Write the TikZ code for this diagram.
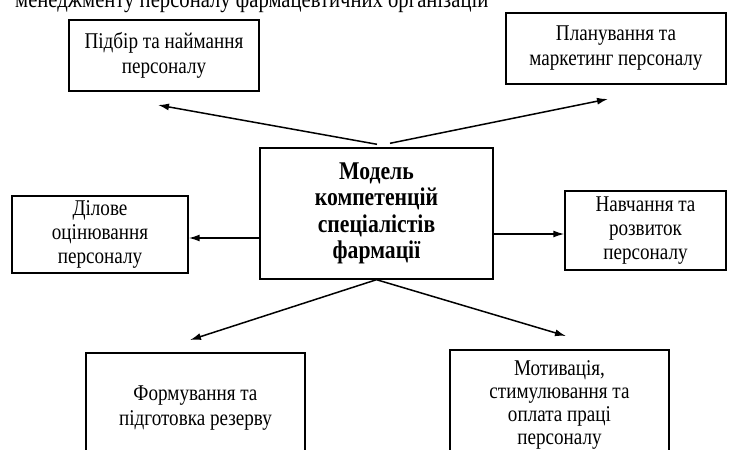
\documentclass[tikz,border=0pt]{standalone}
\usepackage{fontspec}
\setmainfont[FakeStretch=0.85]{Liberation Serif}
\usetikzlibrary{arrows.meta}

\tikzset{
	box/.style={draw, line width=1.4pt, align=center, inner sep=0pt, font=\fontsize{22.5}{24}\selectfont},
	arr/.style={-{Latex[length=11pt,width=7pt]}, line width=1.5pt},
}

\begin{document}
\begin{tikzpicture}[x=1pt,y=-1pt]

	\useasboundingbox (0,0) rectangle (729,450);
	\clip (0,0) rectangle (729,450);

	%caption line, cut by the page edge
	\node[anchor=base west, inner sep=0pt, font=\fontsize{24.3}{25}\selectfont] (caption) at (15,7) {менеджменту персоналу фармацевтичних організацій};

	%central box
	\node[box, minimum width=233pt, minimum height=131pt, font=\bfseries\fontsize{25.5}{26.5}\selectfont] (model) at (376.5,213.5) {Модель\\компетенцій\\спеціалістів\\фармації};

	%outer boxes
	\node[box, minimum width=190pt, minimum height=71pt, font=\fontsize{22.5}{25}\selectfont] (podbir) at (164,55.5) {Підбір та наймання\\персоналу};
	\node[box, minimum width=220pt, minimum height=71pt, font=\fontsize{22.5}{25}\selectfont] (plan) at (616,48.5) {Планування та\\маркетинг персоналу};
	\node[box, minimum width=176pt, minimum height=77pt] (dilove) at (100,234.5) {Ділове\\оцінювання\\персоналу};
	\node[box, minimum width=161pt, minimum height=79pt] (navch) at (645.5,230.5) {Навчання та\\розвиток\\персоналу};
	\node[box, minimum width=219pt, minimum height=110pt, font=\fontsize{22.5}{24.5}\selectfont] (form) at (195.5,408) {Формування та\\підготовка резерву};
	\node[box, minimum width=219pt, minimum height=110pt, font=\fontsize{22.5}{23}\selectfont] (motiv) at (559.5,405) {Мотивація,\\стимулювання та\\оплата праці\\персоналу};

	%arrow tips left free
	\coordinate (podbirTip) at (158,105);
	\coordinate (planTip) at (608,99);
	\coordinate (formTip) at (190,340);
	\coordinate (motivTip) at (566,336);

	%arrows
	\draw[arr] ([xshift=0.5pt,yshift=3pt]model.north) -- (podbirTip);
	\draw[arr] ([xshift=13.5pt,yshift=4pt]model.north) -- (planTip);
	\draw[arr] ([yshift=-3.5pt]model.west |- dilove.east) -- ([yshift=-3.5pt]dilove.east);
	\draw[arr] ([yshift=-3.5pt]model.east |- navch.west) -- ([yshift=-3.5pt]navch.west);
	\draw[arr] (model.south) -- (formTip);
	\draw[arr] (model.south) -- (motivTip);

\end{tikzpicture}
\end{document}
